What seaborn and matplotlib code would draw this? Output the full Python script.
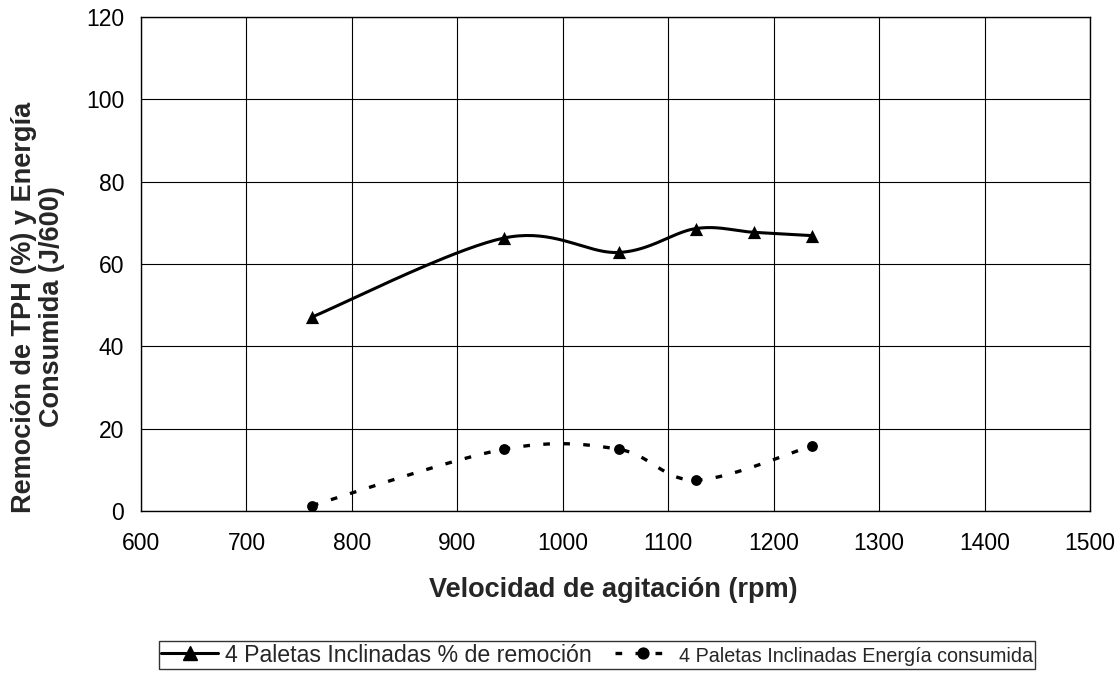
import numpy as np
import pandas as pd
import matplotlib
matplotlib.use("Agg")
import matplotlib.pyplot as plt
from matplotlib.lines import Line2D
import seaborn as sns

# ---- data ----
rpm_remocion = [762, 944, 1053, 1126, 1181, 1236]
remocion = [47.1, 66.3, 62.8, 68.6, 67.7, 66.9]
rpm_energia = [762, 944, 1053, 1126, 1236]
energia = [1.3, 15.0, 15.0, 7.5, 15.8]
label_remocion = "4 Paletas Inclinadas % de remoción"
label_energia = "4 Paletas Inclinadas Energía consumida"
x_ticks = [600, 700, 800, 900, 1000, 1100, 1200, 1300, 1400, 1500]
y_ticks = [0, 20, 40, 60, 80, 100, 120]
x_title = "Velocidad de agitación (rpm)"
y_title = "Remoción de TPH (%) y Energía\nConsumida (J/600)"


def smooth(x, y, n=40):
    """Excel-like smoothed line (cubic Bezier through the points)."""
    pts = np.column_stack([x, y]).astype(float)
    out = []
    for i in range(len(pts) - 1):
        p0 = pts[i - 1] if i > 0 else pts[i]
        p1 = pts[i]
        p2 = pts[i + 1]
        p3 = pts[i + 2] if i + 2 < len(pts) else pts[i + 1]
        c1 = p1 + (p2 - p0) / 6.0
        c2 = p2 - (p3 - p1) / 6.0
        t = np.linspace(0, 1, n)[:, None]
        seg = (1 - t) ** 3 * p1 + 3 * (1 - t) ** 2 * t * c1 + 3 * (1 - t) * t ** 2 * c2 + t ** 3 * p2
        out.append(seg if i == 0 else seg[1:])
    arr = np.vstack(out)
    return pd.DataFrame({"x": arr[:, 0], "y": arr[:, 1]})


sns.set_style("white")
plt.rcParams["font.family"] = ["Liberation Sans", "DejaVu Sans"]

fig = plt.figure(figsize=(11.2, 6.79), dpi=100)
ax = fig.add_axes([141 / 1120, 1 - 511 / 679, (1090 - 141) / 1120, (511 - 17) / 679])

s1 = smooth(rpm_remocion, remocion)
s2 = smooth(rpm_energia, energia)

sns.lineplot(data=s1, x="x", y="y", sort=False, estimator=None, color="black",
             linewidth=2.2, ax=ax, zorder=3)
sns.scatterplot(x=rpm_remocion, y=remocion, marker="^", s=9.5 ** 2, color="black",
                linewidth=0, ax=ax, zorder=4)
sns.lineplot(data=s2, x="x", y="y", sort=False, estimator=None, color="black",
             linewidth=2.4, linestyle=(0, (2, 4)), ax=ax, zorder=3)
sns.scatterplot(x=rpm_energia, y=energia, marker="o", s=7.8 ** 2, color="black",
                linewidth=0, ax=ax, zorder=4)

ax.set_xlim(600, 1500)
ax.set_ylim(0, 120)
ax.set_xticks(x_ticks)
ax.set_yticks(y_ticks)
ax.set_xlabel("")
ax.set_ylabel("")
ax.grid(True, color="black", linewidth=0.8)
ax.set_axisbelow(True)
for sp in ax.spines.values():
    sp.set_color("black")
    sp.set_linewidth(1.0)
ax.tick_params(axis="both", direction="out", length=4, width=0.8, colors="black",
               labelsize=16.5, pad=8)
ax.tick_params(axis="x", pad=11)

fig.text(613 / 1120, 1 - 590 / 679, x_title, ha="center", va="center",
         fontsize=19.5, fontweight="bold")
fig.text(38 / 1120, 1 - 307 / 679, y_title, ha="center", va="center",
         rotation=90, fontsize=19.5, fontweight="bold", multialignment="center",
         linespacing=1.1)

h1 = Line2D([], [], color="black", linewidth=2.2, marker="^", markersize=9.5)
h2 = Line2D([], [], color="black", linewidth=2.4, linestyle=(0, (2, 4)),
            marker="o", markersize=7.8)
leg = fig.legend([h1, h2], [label_remocion, label_energia], ncol=2,
                 loc="center", bbox_to_anchor=(597 / 1120, 1 - 655 / 679),
                 frameon=True, fancybox=False, shadow=False, fontsize=16.7,
                 handlelength=2.45, handletextpad=0.3, columnspacing=1.0,
                 borderpad=0.1, borderaxespad=0)
leg.get_frame().set_edgecolor("black")
leg.get_frame().set_linewidth(1.0)
leg.get_texts()[1].set_fontsize(14.2)

fig.savefig("out.png", dpi=100, facecolor="white")
